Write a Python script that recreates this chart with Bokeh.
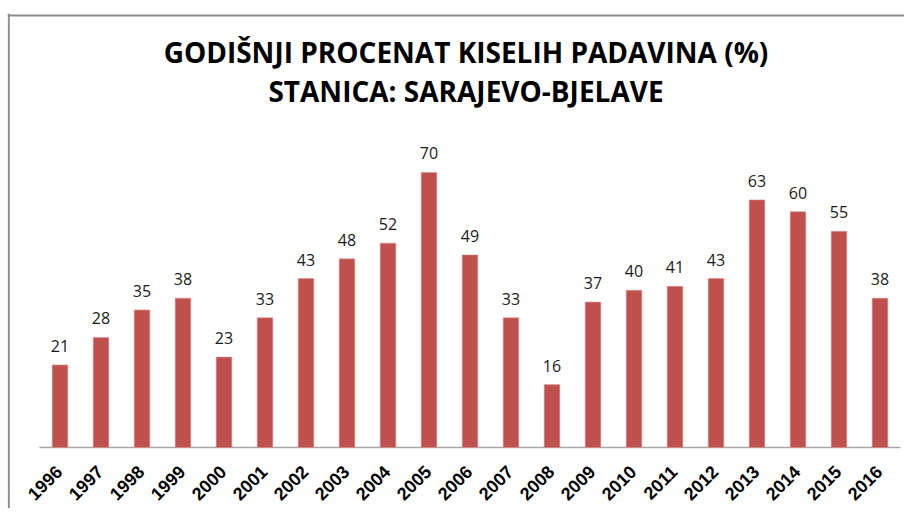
import math
from bokeh.plotting import figure
from bokeh.models import ColumnDataSource, Range1d, Span
from bokeh.core.properties import value
from bokeh.embed import file_html
from bokeh.resources import INLINE

years = [1996, 1997, 1998, 1999, 2000, 2001, 2002, 2003, 2004, 2005,
         2006, 2007, 2008, 2009, 2010, 2011, 2012, 2013, 2014, 2015, 2016]
percent = [21, 28, 35, 38, 23, 33, 43, 48, 52, 70, 49, 33, 16, 37, 40, 41, 43, 63, 60, 55, 38]
year_labels = [str(y) for y in years]
title_lines = ["GODIŠNJI PROCENAT KISELIH PADAVINA (%)", "STANICA: SARAJEVO-BJELAVE"]

# layout (pixels)
W, H = 904, 508
FL, FT = 7, 13            # frame left / top
BASE_PX = 447             # baseline page y
FIRST_PX = 59.5           # first bar centre page x
PX_X = 41.0               # pixels per year
PX_Y = 3.93               # pixels per percent

x_start = years[0] - (FIRST_PX - FL) / PX_X
x_end = x_start + (W - FL) / PX_X
y_end = (BASE_PX - FT) / PX_Y
y_start = -(H - BASE_PX) / PX_Y

title_y = [(BASE_PX - 51) / PX_Y, (BASE_PX - 90) / PX_Y]
title_x = years[len(years) // 2]

src = ColumnDataSource(dict(x=years, top=percent, lbl=[str(v) for v in percent],
                            ylab=year_labels, zero=[0] * len(years)))

p = figure(width=W, height=H, x_range=Range1d(x_start, x_end), y_range=Range1d(y_start, y_end),
           output_backend="svg", toolbar_location=None,
           x_axis_location=None, y_axis_location=None,
           min_border_left=FL, min_border_right=0, min_border_top=FT, min_border_bottom=0)
p.background_fill_color = "white"
p.border_fill_color = "white"
p.outline_line_color = None
p.grid.visible = False

# outer chart border (left and top edges)
p.add_layout(Span(location=x_start + 1.3 / PX_X, dimension="height",
                  line_color="#8C8C8C", line_width=2))
p.add_layout(Span(location=y_end - 2.0 / PX_Y, dimension="width",
                  line_color="#8C8C8C", line_width=2))

# baseline (category axis line)
p.segment(x0=[years[0] - 0.5], y0=[0], x1=[years[-1] + 0.5], y1=[0],
          line_color="#A6A6A6", line_width=1.6)

p.vbar(x="x", top="top", width=0.38, source=src, fill_color="#C0504D",
       line_color="#D99694", line_width=0.6)

p.text(x="x", y="top", text="lbl", source=src, text_align="center", text_baseline="middle",
       y_offset=-19, text_font=value("Open Sans"), text_font_size="16px", text_color="#1a1a1a")

# category labels, rotated 45 degrees
p.text(x="x", y="zero", text="ylab", source=src, angle=math.pi / 4,
       text_align="right", text_baseline="middle", y_offset=21, x_offset=-1,
       text_font=value("Liberation Sans"), text_font_style="bold",
       text_font_size="18px", text_color="black")

tsrc = ColumnDataSource(dict(x=[title_x, title_x], y=title_y, t=title_lines))
p.text(x="x", y="y", text="t", source=tsrc, text_align="center", text_baseline="middle",
       x_offset=-4, text_font=value("Open Sans"), text_font_style="bold",
       text_font_size="28px", text_color="black")

open("out.html", "w").write(file_html(p, INLINE))
